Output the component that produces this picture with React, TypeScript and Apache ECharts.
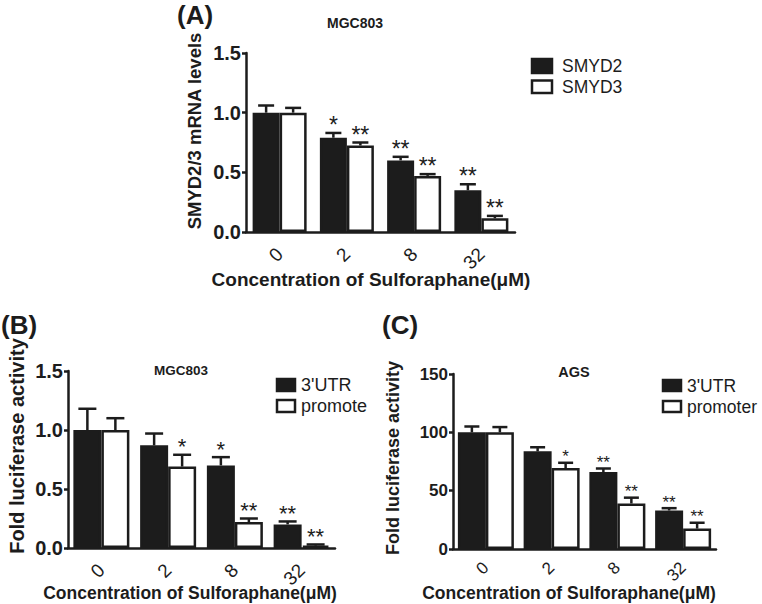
import React, { useEffect, useRef } from "react";
import * as echarts from "echarts";

// ---------- data ----------
const categories = ["0", "2", "8", "32"];

// Panel A (MGC803, mRNA)
const smyd2 = [1.0, 0.79, 0.6, 0.35];
const smyd2Err = [0.06, 0.04, 0.03, 0.05];
const smyd2Sig = ["", "*", "**", "**"];
const smyd3 = [1.0, 0.725, 0.47, 0.115];
const smyd3Err = [0.04, 0.025, 0.015, 0.02];
const smyd3Sig = ["", "**", "**", "**"];
const yTicksA = [0, 0.5, 1.0, 1.5];

// Panel B (MGC803, luciferase)
const utrB = [1.0, 0.87, 0.7, 0.2];
const utrBErr = [0.18, 0.1, 0.07, 0.025];
const utrBSig = ["", "", "*", "**"];
const promB = [1.0, 0.69, 0.22, 0.02];
const promBErr = [0.1, 0.1, 0.03, 0.01];
const promBSig = ["", "*", "**", "**"];
const yTicksB = [0, 0.5, 1.0, 1.5];

// Panel C (AGS, luciferase)
const utrC = [100, 83.7, 66, 33];
const utrCErr = [5, 3.5, 3, 2];
const utrCSig = ["", "", "**", "**"];
const promC = [100, 69.4, 39, 17.5];
const promCErr = [4.5, 4.5, 5, 5];
const promCSig = ["", "*", "**", "**"];
const yTicksC = [0, 50, 100, 150];

const xName = "Concentration of Sulforaphane(μM)";

const FONT = "'Liberation Sans', Arial, Helvetica, sans-serif";
const INK = "#1c1c1c";

function barSeries(name: string, gi: number, data: number[], filled: boolean, barW: number) {
  return {
    type: "bar",
    name,
    xAxisIndex: gi,
    yAxisIndex: gi,
    data,
    barWidth: barW,
    barGap: "0%",
    itemStyle: {
      color: filled ? INK : "#ffffff",
      borderColor: INK,
      borderWidth: 2.5,
    },
    emphasis: { disabled: true },
    z: 2,
  };
}

function errSeries(
  gi: number,
  values: number[],
  errs: number[],
  sigs: string[],
  side: number,
  barW: number,
  capW: number,
  starSize: number,
  starLift: number
) {
  return {
    type: "custom",
    coordinateSystem: "cartesian2d",
    xAxisIndex: gi,
    yAxisIndex: gi,
    data: values.map((v, i) => [i, v, errs[i]]),
    encode: { x: 0, y: 1 },
    z: 5,
    silent: true,
    renderItem: (params: any, api: any) => {
      const i = api.value(0);
      const v = api.value(1);
      const e = api.value(2);
      const base = api.coord([i, v]);
      const top = api.coord([i, v + e]);
      const cx = base[0] + (side * barW) / 2;
      const sig = sigs[params.dataIndex];
      const children: any[] = [
        {
          type: "line",
          shape: { x1: cx, y1: base[1], x2: cx, y2: top[1] },
          style: { stroke: INK, lineWidth: 2.5 },
        },
        {
          type: "line",
          shape: { x1: cx - capW / 2, y1: top[1], x2: cx + capW / 2, y2: top[1] },
          style: { stroke: INK, lineWidth: 2.5 },
        },
      ];
      if (sig) {
        children.push({
          type: "text",
          style: {
            text: sig,
            x: cx,
            y: top[1] - starLift,
            align: "center",
            verticalAlign: "middle",
            fontSize: starSize,
            fontFamily: FONT,
            fill: INK,
          },
        });
      }
      return { type: "group", children };
    },
  };
}

function xAxisCfg(gi: number, labelSize: number, margin: number) {
  return {
    type: "category",
    gridIndex: gi,
    data: categories,
    axisLine: { lineStyle: { color: INK, width: 2.5 } },
    axisTick: { alignWithLabel: true, length: 6, interval: 0, lineStyle: { color: INK, width: 2.5 } },
    axisLabel: {
      rotate: 45,
      interval: 0,
      margin,
      fontSize: labelSize,
      fontFamily: FONT,
      color: INK,
    },
    splitLine: { show: false },
  };
}

function yAxisCfg(gi: number, ticks: number[], labelSize: number, decimals: number) {
  return {
    type: "value",
    gridIndex: gi,
    min: ticks[0],
    max: ticks[ticks.length - 1],
    interval: ticks[1] - ticks[0],
    axisLine: { show: true, lineStyle: { color: INK, width: 2.5 } },
    axisTick: { show: true, length: 4, lineStyle: { color: INK, width: 2.5 } },
    axisLabel: {
      margin: 5,
      fontSize: labelSize,
      fontWeight: "bold",
      fontFamily: FONT,
      color: INK,
      formatter: (v: number) => v.toFixed(decimals),
    },
    splitLine: { show: false },
  };
}

function txt(text: string, x: number, y: number, size: number, bold: boolean, extra: any = {}) {
  return {
    type: "text",
    x,
    y,
    silent: true,
    ...extra,
    style: {
      text,
      fontSize: size,
      fontWeight: bold ? "bold" : "normal",
      fontFamily: FONT,
      fill: INK,
      align: extra.align || "center",
      verticalAlign: "middle",
    },
  };
}

function legendItem(
  label: string,
  x: number,
  y: number,
  filled: boolean,
  w: number,
  h: number,
  size: number,
  gap: number
) {
  return [
    {
      type: "rect",
      silent: true,
      shape: { x, y, width: w, height: h },
      style: { fill: filled ? INK : "#ffffff", stroke: INK, lineWidth: 2.5 },
    },
    txt(label, x + w + gap, y + h / 2, size, false, { align: "left" }),
  ];
}

export default function App() {
  const ref = useRef<HTMLDivElement>(null);

  useEffect(() => {
    if (!ref.current) return;
    const chart = echarts.init(ref.current, undefined, { renderer: "svg" });

    const option: any = {
      animation: false,
      backgroundColor: "#ffffff",
      textStyle: { fontFamily: FONT },
      grid: [
        { left: 246, top: 53, width: 269, height: 179 },
        { left: 68, top: 371, width: 267, height: 177 },
        { left: 453, top: 374, width: 263, height: 175 },
      ],
      xAxis: [xAxisCfg(0, 19, 19), xAxisCfg(1, 19, 19), xAxisCfg(2, 17, 16)],
      yAxis: [yAxisCfg(0, yTicksA, 20, 1), yAxisCfg(1, yTicksB, 20, 1), yAxisCfg(2, yTicksC, 17, 0)],
      series: [
        barSeries("SMYD2", 0, smyd2, true, 27),
        barSeries("SMYD3", 0, smyd3, false, 27),
        errSeries(0, smyd2, smyd2Err, smyd2Sig, -1, 27, 16, 23, 8),
        errSeries(0, smyd3, smyd3Err, smyd3Sig, 1, 27, 16, 23, 8),

        barSeries("3'UTR", 1, utrB, true, 28),
        barSeries("promote", 1, promB, false, 28),
        errSeries(1, utrB, utrBErr, utrBSig, -1, 28, 18, 22, 8),
        errSeries(1, promB, promBErr, promBSig, 1, 28, 18, 22, 8),

        barSeries("3'UTR ", 2, utrC, true, 28),
        barSeries("promoter", 2, promC, false, 28),
        errSeries(2, utrC, utrCErr, utrCSig, -1, 28, 15, 17, 6),
        errSeries(2, promC, promCErr, promCSig, 1, 28, 15, 17, 6),
      ],
      graphic: [
        // panel labels
        txt("(A)", 177, 15, 26, true, { align: "left" }),
        txt("(B)", 1, 325, 26, true, { align: "left" }),
        txt("(C)", 382, 325, 26, true, { align: "left" }),
        // titles
        txt("MGC803", 355, 23, 14, true),
        txt("MGC803", 181, 370, 13.5, true),
        txt("AGS", 574, 372, 14.5, true),
        // y axis names
        txt("SMYD2/3 mRNA levels", 194, 131, 18.5, true, { rotation: Math.PI / 2 }),
        txt("Fold luciferase activity", 17, 446, 20, true, { rotation: Math.PI / 2 }),
        txt("Fold luciferase activity", 393, 458, 18, true, { rotation: Math.PI / 2 }),
        // x axis names
        txt(xName, 371, 279, 19, true),
        txt(xName, 190, 593, 17.5, true),
        txt(xName, 569, 593, 17.5, true),
        // legends
        ...legendItem("SMYD2", 532, 59, true, 20, 14, 17.5, 10),
        ...legendItem("SMYD3", 532, 80.5, false, 20, 12.5, 17.5, 10),
        ...legendItem("3'UTR", 277, 379, true, 18, 12, 18, 6),
        ...legendItem("promote", 277, 400, false, 18, 12, 18, 6),
        ...legendItem("3'UTR", 663, 380, true, 18, 11, 17.5, 6),
        ...legendItem("promoter", 663, 401, false, 18, 11, 17.5, 6),
      ],
    };

    chart.setOption(option);
    return () => chart.dispose();
  }, []);

  return (
    <div
      ref={ref}
      style={{ position: "fixed", left: 0, top: 0, width: 762, height: 604, background: "#fff" }}
    />
  );
}
